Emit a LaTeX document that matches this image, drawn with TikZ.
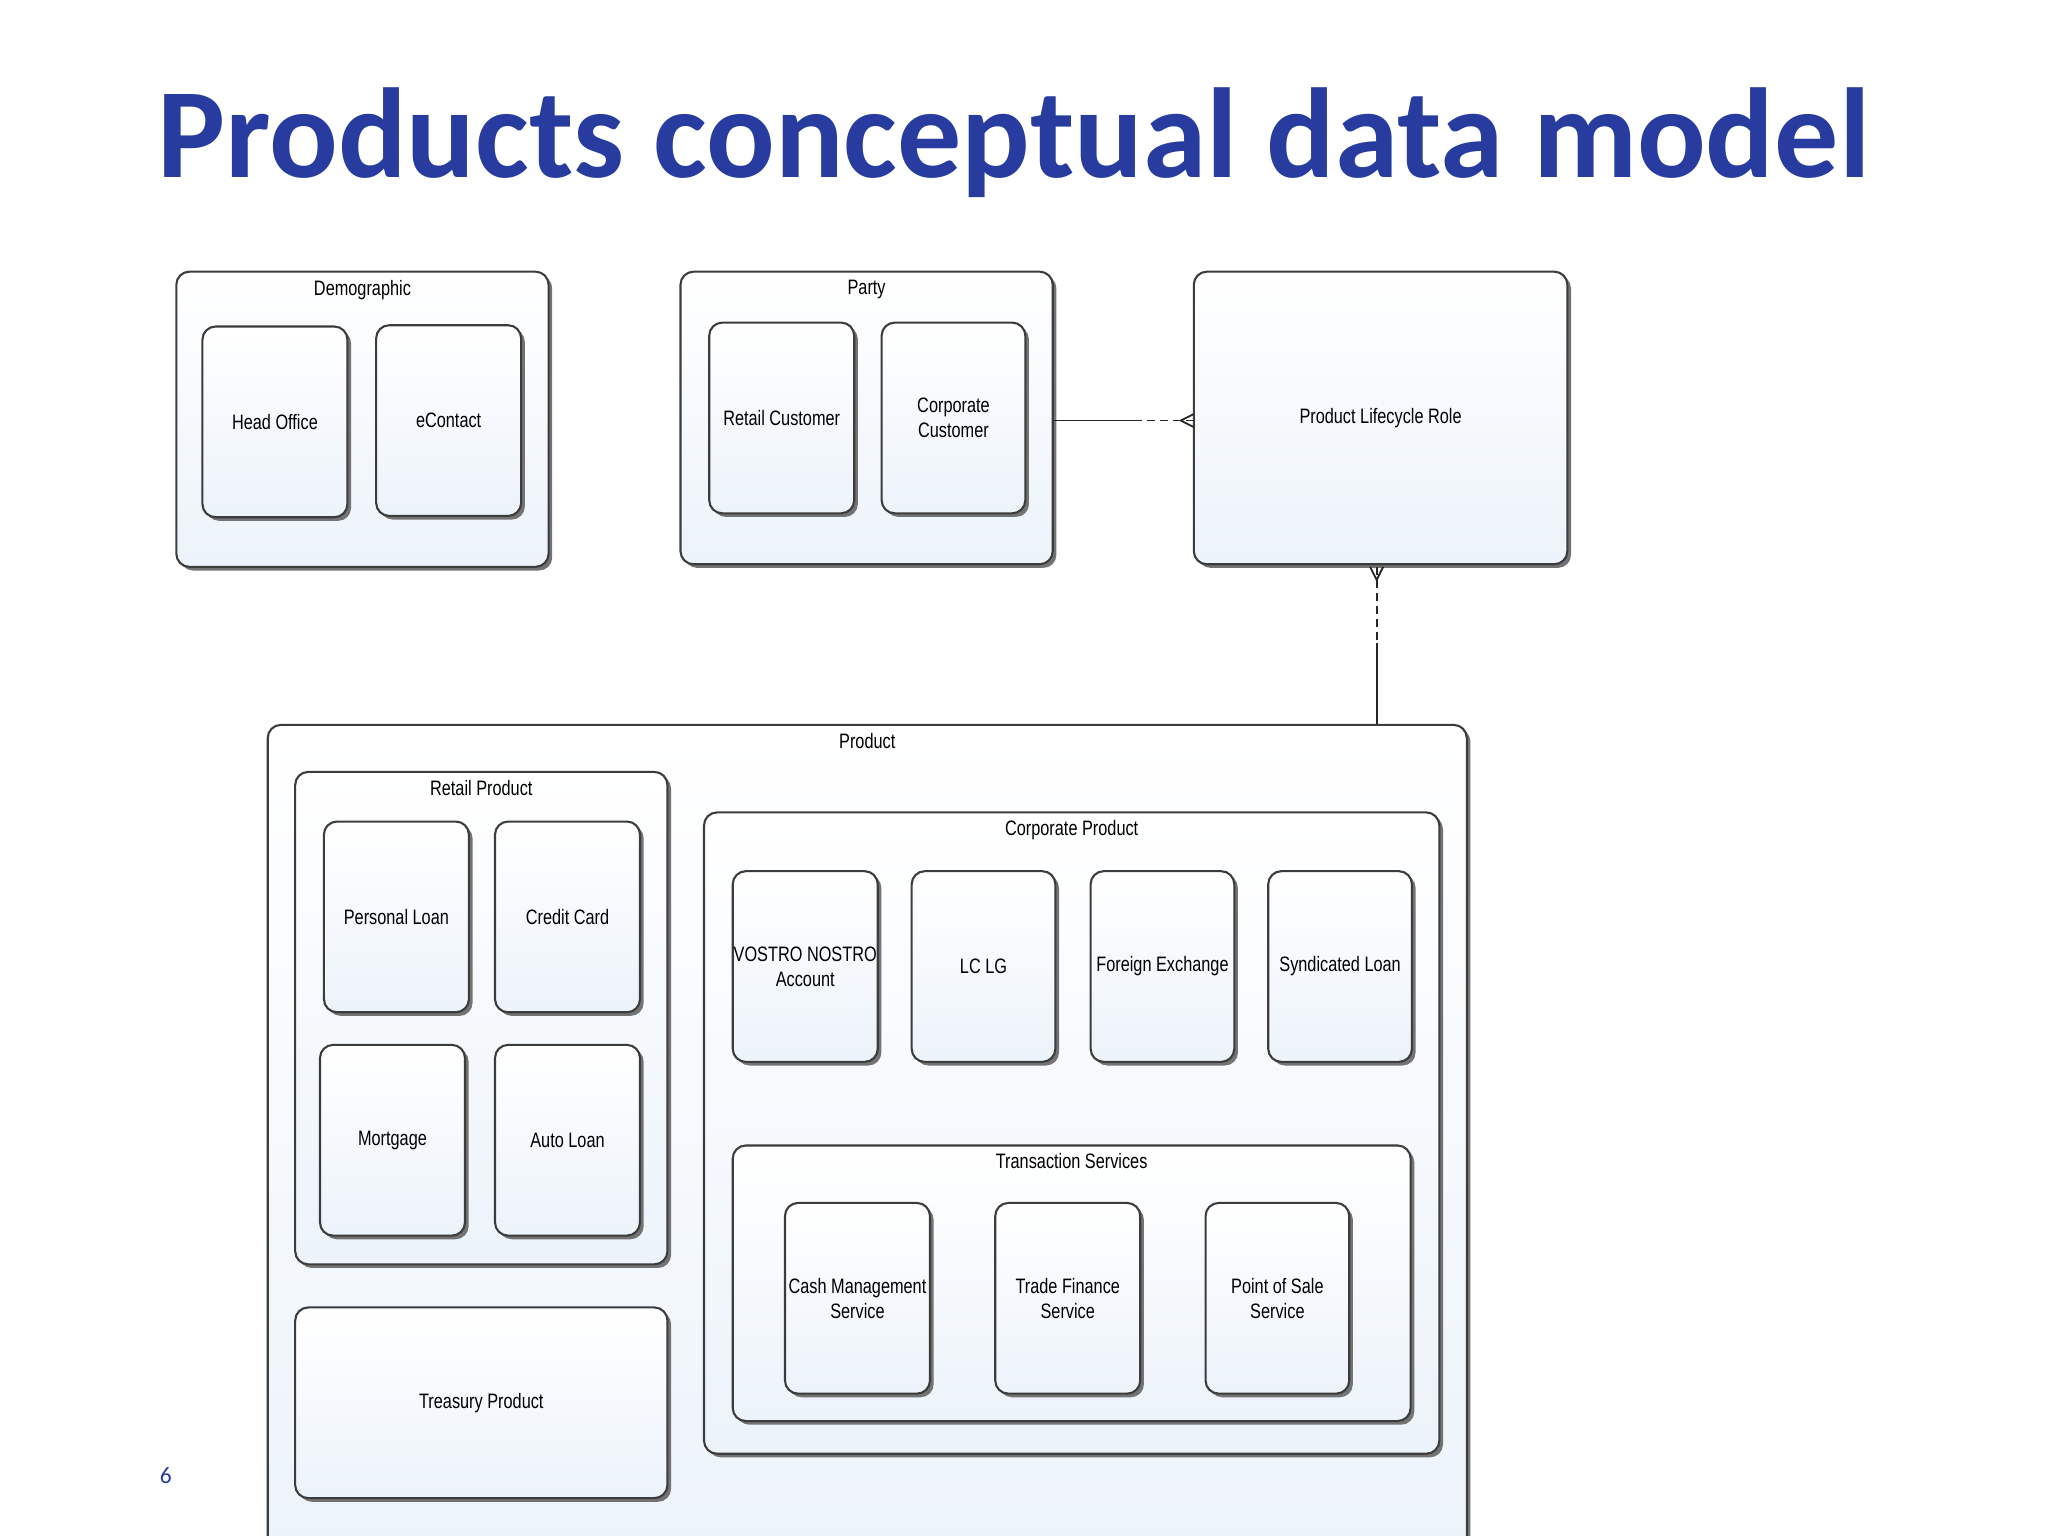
\documentclass[tikz,border=0pt]{standalone}
\usepackage{fontspec}
\setmainfont{Liberation Sans}
\newfontfamily\narrowf{Liberation Sans}[FakeStretch=0.78]
\newfontfamily\titlef{Carlito}
\usetikzlibrary{shadows}
\definecolor{titleblue}{RGB}{40,60,160}
\definecolor{edge}{RGB}{60,60,60}
\definecolor{boxbot}{RGB}{236,243,250}
\tikzset{
  box/.style={draw=edge, line width=0.8pt, rounded corners=5pt, top color=white, bottom color=boxbot,
    drop shadow={shadow xshift=1.4pt, shadow yshift=-1.4pt, fill=black!55, opacity=1},
    inner sep=0pt, font=\narrowf\fontsize{8}{9.5}\selectfont, align=center},
  lbl/.style={font=\narrowf\fontsize{8}{9.5}\selectfont, anchor=north, inner sep=0pt},
  conn/.style={draw=black!85, line width=0.7pt},
}
\newcommand{\bx}[6]{\node[box, minimum width={(#4-#2)*0.5pt}, minimum height={(#5-#3)*0.5pt}] (#1) at ({(#2+#4)/2},{(#3+#5)/2}) {#6};}
\newcommand{\cbx}[6]{\node[box, minimum width={(#4-#2)*0.5pt}, minimum height={(#5-#3)*0.5pt}] (#1) at ({(#2+#4)/2},{(#3+#5)/2}) {};
  \node[lbl] (#1-t) at ({(#2+#4)/2},{#3+6}) {#6};}
\begin{document}
\begin{tikzpicture}[x=0.5pt,y=-0.5pt]
\useasboundingbox (0,0) rectangle (1568,1176);
\clip (0,0) rectangle (1568,1176);
\node[anchor=base west, inner sep=0pt, text=titleblue, font=\titlef\bfseries\fontsize{49}{54}\selectfont] (title) at (120,136) {Products conceptual data model};
\node[anchor=base west, inner sep=0pt, text=titleblue, font=\titlef\fontsize{9}{10}\selectfont] (pg) at (122,1136) {6};
% top row
\cbx{demo}{135}{208}{420}{434}{Demographic}
\bx{ho}{155}{250}{266}{396}{Head Office}
\bx{ec}{288}{249}{399}{395}{eContact}
\cbx{party}{521}{208}{806}{432}{Party}
\bx{rc}{543}{247}{654}{393}{Retail Customer}
\bx{cc}{675}{247}{785}{393}{Corporate\\Customer}
\bx{plr}{914}{208}{1200}{432}{Product Lifecycle Role}
% product
\cbx{prod}{205}{555}{1123}{1200}{Product}
\cbx{rp}{226}{591}{511}{968}{Retail Product}
\bx{pl}{248}{629}{359}{775}{Personal Loan}
\bx{ccard}{379}{629}{490}{775}{Credit Card}
\bx{mort}{245}{800}{356}{946}{Mortgage}
\bx{auto}{379}{800}{490}{946}{Auto Loan}
\bx{tp}{226}{1001}{511}{1147}{Treasury Product}
\cbx{cp}{539}{622}{1102}{1113}{Corporate Product}
\bx{vn}{561}{667}{672}{813}{VOSTRO NOSTRO\\Account}
\bx{lc}{698}{667}{808}{813}{LC LG}
\bx{fx}{835}{667}{945}{813}{Foreign Exchange}
\bx{sl}{971}{667}{1081}{813}{Syndicated Loan}
\cbx{ts}{561}{877}{1080}{1088}{Transaction Services}
\bx{cms}{601}{921}{712}{1067}{Cash Management\\Service}
\bx{tfs}{762}{921}{873}{1067}{Trade Finance\\Service}
\bx{pos}{923}{921}{1033}{1067}{Point of Sale\\Service}
% connectors
\coordinate (m1) at (868,322);
\coordinate (p1) at (914,322);
\draw[conn] (party.east |- p1) -- (m1);
\draw[conn, dash pattern=on 3pt off 2pt] (m1) -- (p1);
\draw[conn] ([xshift=-5pt]p1) -- ++(5pt,2.5pt) ([xshift=-5pt]p1) -- ++(5pt,-2.5pt);
\coordinate (p2) at (1054,434);
\coordinate (m2) at (1054,492);
\draw[conn, dash pattern=on 3pt off 2pt] (p2) -- (m2);
\draw[conn] (m2) -- (prod.north -| m2);
\draw[conn] ([yshift=-5pt]p2) -- ++(2.5pt,5pt) ([yshift=-5pt]p2) -- ++(-2.5pt,5pt);
\end{tikzpicture}
\end{document}
